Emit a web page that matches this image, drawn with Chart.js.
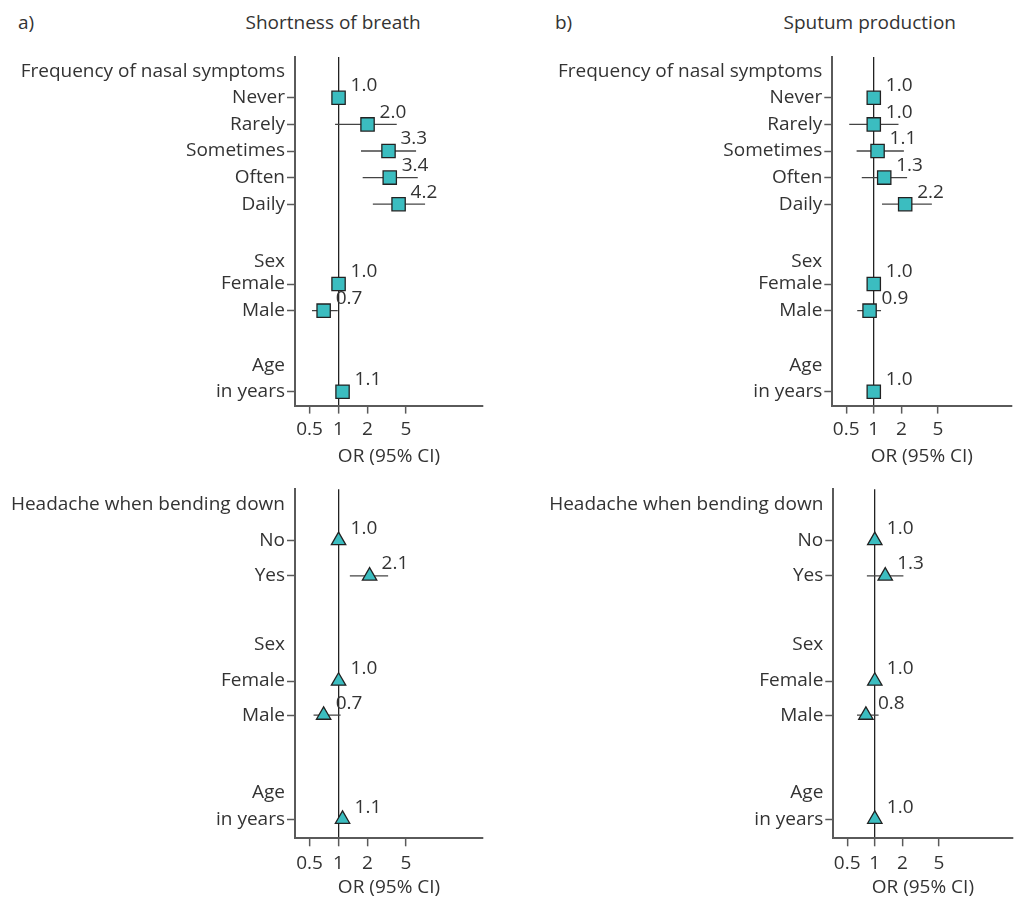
<!DOCTYPE html>
<html>
<head>
<meta charset="utf-8">
<script src="https://cdn.jsdelivr.net/npm/chart.js@4.4.1/dist/chart.umd.min.js"></script>
<style>
  html, body { margin: 0; padding: 0; background: #fff; }
  body { width: 1022px; height: 897px; position: relative; overflow: hidden; font-family: 'Open Sans', sans-serif; color: #333; }
  .box { position: absolute; }
  .lbl { position: absolute; line-height: 20px; color: #333; white-space: nowrap; font-family: 'Open Sans', sans-serif; }
</style>
</head>
<body>
<div class="lbl" id="tagA" style="left:18px; top:12px;">a)</div>
<div class="lbl" id="titleA" style="top:12px;">Shortness of breath</div>
<div class="lbl" id="tagB" style="left:555px; top:12px;">b)</div>
<div class="lbl" id="titleB" style="top:12px;">Sputum production</div>

<div class="box" style="left:0px; top:40px;"><canvas id="c1" width="511" height="430"></canvas></div>
<div class="box" style="left:540px; top:40px;"><canvas id="c2" width="482" height="430"></canvas></div>
<div class="box" style="left:0px; top:470px;"><canvas id="c3" width="511" height="427"></canvas></div>
<div class="box" style="left:541px; top:470px;"><canvas id="c4" width="481" height="427"></canvas></div>

<script>
// ---------------- DATA ----------------
const xTickValues = [0.5, 1, 2, 5];
const axisTitle = 'OR (95% CI)';

// Top panels: nasal symptom frequency
const nasalRows = ["Frequency of nasal symptoms", "Never", "Rarely", "Sometimes", "Often", "Daily", "Sex", "Female", "Male", "Age", "in years"];
// a) Shortness of breath
const sobNasalOR = [null, 1.0, 2.0, 3.3, 3.4, 4.2, null, 1.0, 0.7, null, 1.1];
const sobNasalLo = [null, null, 0.92, 1.71, 1.78, 2.27, null, null, 0.53, null, null];
const sobNasalHi = [null, null, 4.02, 6.38, 6.64, 7.91, null, null, 0.98, null, null];
// b) Sputum production
const sputNasalOR = [null, 1.0, 1.0, 1.1, 1.3, 2.2, null, 1.0, 0.9, null, 1.0];
const sputNasalLo = [null, null, 0.54, 0.65, 0.74, 1.23, null, null, 0.66, null, null];
const sputNasalHi = [null, null, 1.86, 2.13, 2.31, 4.30, null, null, 1.20, null, null];

// Bottom panels: headache when bending down
const headRows = ["Headache when bending down", "No", "Yes", "Sex", "Female", "Male", "Age", "in years"];
// a) Shortness of breath
const sobHeadOR = [null, 1.0, 2.1, null, 1.0, 0.7, null, 1.1];
const sobHeadLo = [null, null, 1.31, null, null, 0.55, null, null];
const sobHeadHi = [null, null, 3.27, null, null, 1.05, null, null];
// b) Sputum production
const sputHeadOR = [null, 1.0, 1.3, null, 1.0, 0.8, null, 1.0];
const sputHeadLo = [null, null, 0.82, null, null, 0.64, null, null];
const sputHeadHi = [null, null, 2.05, null, null, 1.10, null, null];

// ---------------- LAYOUT ----------------
const nasalRowPos = [0, 1, 2, 3, 4, 5, 7.15, 8, 9, 11.05, 12.05];
const headRowPos = [0, 1, 2, 3.92, 4.96, 5.92, 8.10, 8.85];

const FAMILY = 'Open Sans';
// size chosen so the longest label has the reference width (~264px)
const mctx = document.createElement('canvas').getContext('2d');
mctx.font = '100px "' + FAMILY + '"';
let fsize = Math.round(264 / mctx.measureText(nasalRows[0]).width * 100 * 10) / 10;
if (!(fsize > 12 && fsize < 24)) fsize = 18;
const FONT = { family: FAMILY, size: fsize };
const TEXT = '#333333';
const AXIS = '#5a5a5a';
const FILL = '#3bbdc0';

['tagA', 'titleA', 'tagB', 'titleB'].forEach(id => { document.getElementById(id).style.fontSize = fsize + 'px'; });

Chart.defaults.font.family = FAMILY;
Chart.defaults.font.size = fsize;
Chart.defaults.color = TEXT;

const valueLabels = {
  id: 'valueLabels',
  afterDatasetsDraw(chart, args, opts) {
    const ds = chart.data.datasets[0];
    const meta = chart.getDatasetMeta(0);
    const ctx = chart.ctx;
    ctx.save();
    ctx.font = FONT.size + 'px "' + FONT.family + '"';
    ctx.fillStyle = TEXT;
    ctx.textAlign = 'left';
    ctx.textBaseline = 'middle';
    meta.data.forEach((pt, i) => {
      ctx.fillText(ds.data[i].x.toFixed(1), pt.x + opts.dx, pt.y + opts.dy);
    });
    ctx.restore();
  }
};

function makeChart(id, rows, rowPos, or, lo, hi, L) {
  const markers = [];
  const datasets = [];
  rows.forEach((r, i) => {
    if (or[i] !== null) markers.push({ x: or[i], y: rowPos[i] });
    if (lo[i] !== null && hi[i] !== null) {
      datasets.push({
        data: [{ x: lo[i], y: rowPos[i] }, { x: hi[i], y: rowPos[i] }],
        showLine: true, borderColor: '#444', borderWidth: 1.3,
        pointRadius: 0, order: 1
      });
    }
  });
  datasets.unshift({
    data: markers, order: 0,
    pointStyle: L.style, pointRadius: L.radius,
    pointBackgroundColor: FILL, pointBorderColor: '#222', pointBorderWidth: 1.3
  });
  const isHeader = rows.map((r, i) => or[i] === null);

  return new Chart(document.getElementById(id), {
    type: 'scatter',
    data: { datasets },
    plugins: [valueLabels],
    options: {
      responsive: false,
      animation: false,
      events: [],
      layout: { padding: { left: 0, right: L.padRight, top: L.padTop, bottom: 0 } },
      plugins: {
        legend: { display: false },
        tooltip: { enabled: false },
        valueLabels: { dx: 12, dy: -12 }
      },
      scales: {
        x: {
          type: 'logarithmic',
          min: 0.353, max: 31.6,
          afterBuildTicks: s => { s.ticks = xTickValues.map(v => ({ value: v })); },
          afterFit: s => { s.height = L.xHeight; },
          ticks: {
            callback: v => String(v), autoSkip: false, maxRotation: 0, minRotation: 0,
            padding: L.xTickPad, font: FONT, color: TEXT
          },
          grid: {
            drawOnChartArea: true,
            color: c => (c.tick && c.tick.value === 1) ? '#222' : 'rgba(0,0,0,0)',
            lineWidth: 1.3,
            tickColor: AXIS, tickLength: 8, tickWidth: 1.5
          },
          border: { display: true, color: AXIS, width: 2 },
          title: { display: true, text: axisTitle, font: FONT, color: TEXT, padding: { top: 0, bottom: L.titlePad } }
        },
        y: {
          type: 'linear', reverse: true,
          min: L.yMin, max: L.yMax,
          afterBuildTicks: s => { s.ticks = rowPos.map(v => ({ value: v })); },
          afterFit: s => { s.width = L.yWidth; },
          ticks: {
            callback: (v, i) => rows[i], autoSkip: false, padding: 2, font: FONT, color: TEXT
          },
          grid: {
            drawOnChartArea: false,
            tickLength: 8, tickWidth: 1.5,
            tickColor: c => isHeader[c.index] ? 'rgba(0,0,0,0)' : AXIS
          },
          border: { display: true, color: AXIS, width: 2 }
        }
      }
    }
  });
}

const topLayout = { style: 'rect', radius: 9.4, yMin: -0.534, yMax: 12.57, xHeight: 64.4, xTickPad: 4.5, titlePad: 2.5, padTop: 17 };
const botLayout = { style: 'triangle', radius: 8.3, yMin: -0.44, yMax: 9.39, xHeight: 58.7, xTickPad: 5.5, titlePad: -2, padTop: 19.3 };

function build() {
  makeChart('c1', nasalRows, nasalRowPos, sobNasalOR, sobNasalLo, sobNasalHi, Object.assign({}, topLayout, { yWidth: 295, padRight: 28 }));
  makeChart('c2', nasalRows, nasalRowPos, sputNasalOR, sputNasalLo, sputNasalHi, Object.assign({}, topLayout, { yWidth: 292.3, padRight: 2 }));
  makeChart('c3', headRows, headRowPos, sobHeadOR, sobHeadLo, sobHeadHi, Object.assign({}, botLayout, { yWidth: 295, padRight: 28 }));
  makeChart('c4', headRows, headRowPos, sputHeadOR, sputHeadLo, sputHeadHi, Object.assign({}, botLayout, { yWidth: 292.3, padRight: 1 }));
  centerAt('titleA', 333);
  centerAt('titleB', 870);
}

function centerAt(id, cx) {
  const el = document.getElementById(id);
  el.style.left = (cx - el.offsetWidth / 2) + 'px';
}
build();
</script>
</body>
</html>
